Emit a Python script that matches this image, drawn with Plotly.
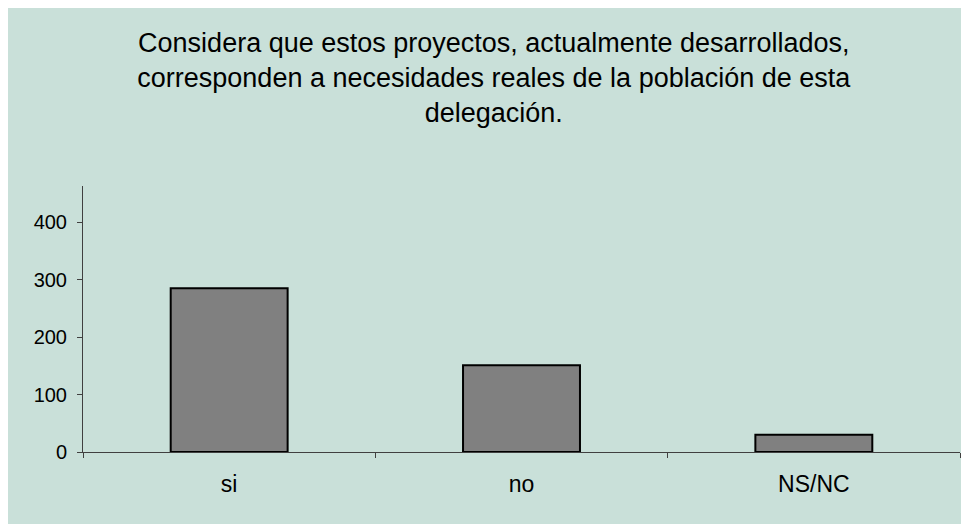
import plotly.graph_objects as go

# Datos de la encuesta
categorias = ["si", "no", "NS/NC"]
respuestas = [285, 151, 30]
ticks_y = [0, 100, 200, 300, 400]

titulo = ("Considera que estos proyectos, actualmente desarrollados,<br>"
          "corresponden a necesidades reales de la población de esta<br>"
          "delegación.")

fig = go.Figure()

fig.add_trace(go.Bar(
    x=categorias,
    y=respuestas,
    width=0.4,
    marker=dict(color="#808080", line=dict(color="black", width=2)),
    hoverinfo="x+y",
))

fig.update_layout(
    width=962,
    height=516,
    margin=dict(l=75, r=10, t=178, b=72),
    paper_bgcolor="#C9E0D9",
    plot_bgcolor="#C9E0D9",
    font=dict(family="Liberation Sans, Arial", color="black"),
    title=dict(
        text=titulo,
        x=0.505,
        xref="container",
        xanchor="center",
        y=1 - 44 / 516,
        yref="container",
        yanchor="top",
        font=dict(size=27, color="black"),
    ),
    showlegend=False,
    bargap=0.6,
)

fig.update_xaxes(
    type="category",
    showline=True,
    linecolor="#404040",
    linewidth=1,
    ticks="outside",
    tickson="boundaries",
    ticklen=5,
    tickcolor="#404040",
    tickfont=dict(size=23),
    ticklabelstandoff=11,
    showgrid=False,
    zeroline=False,
)

fig.update_yaxes(
    range=[0, 463],
    tickvals=ticks_y,
    showline=True,
    linecolor="#404040",
    linewidth=1,
    ticks="outside",
    ticklen=5,
    tickcolor="#404040",
    tickfont=dict(size=20),
    ticklabelstandoff=6,
    showgrid=False,
    zeroline=False,
)

fig.write_html("out.html")
